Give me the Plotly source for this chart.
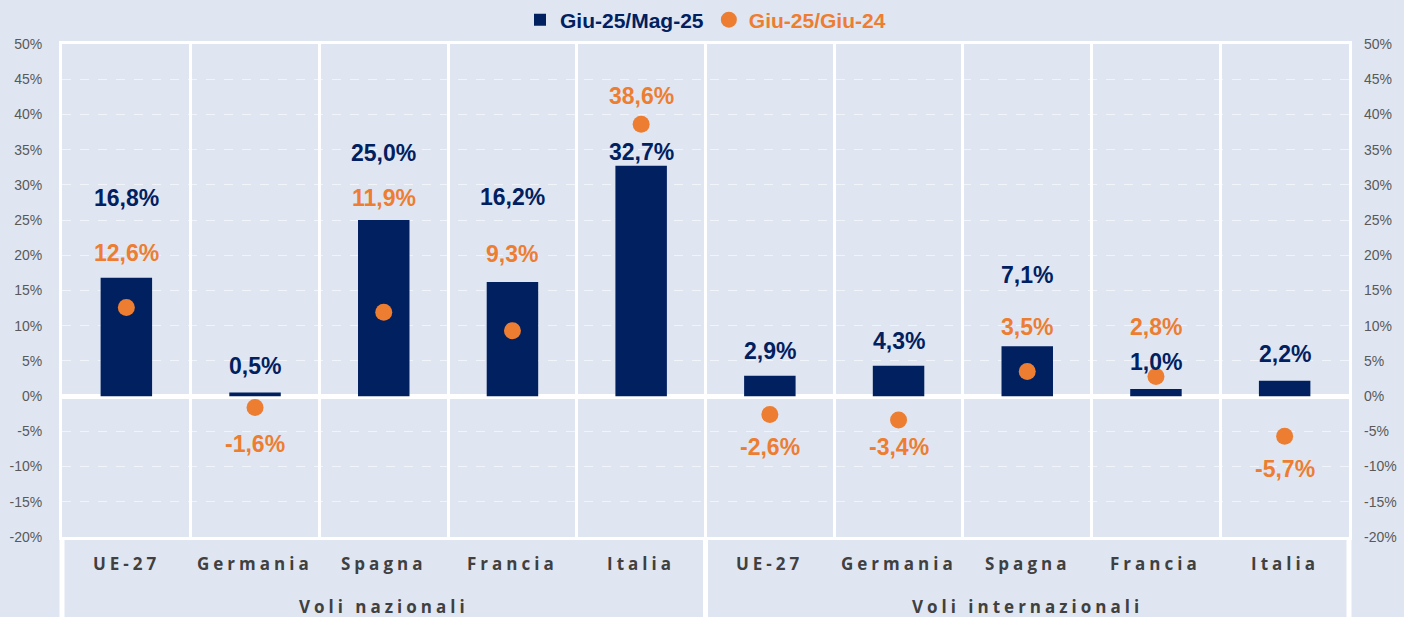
import plotly.graph_objects as go

# ---------------- data ----------------
categories = ["UE-27", "Germania", "Spagna", "Francia", "Italia",
              "UE-27", "Germania", "Spagna", "Francia", "Italia"]
groups = ["Voli nazionali", "Voli internazionali"]
group_size = [5, 5]
mom_values = [16.8, 0.5, 25.0, 16.2, 32.7, 2.9, 4.3, 7.1, 1.0, 2.2]      # Giu-25/Mag-25
yoy_values = [12.6, -1.6, 11.9, 9.3, 38.6, -2.6, -3.4, 3.5, 2.8, -5.7]  # Giu-25/Giu-24
series_names = ["Giu-25/Mag-25", "Giu-25/Giu-24"]
tick_vals = list(range(-20, 55, 5))
tick_text = [f"{v}%" for v in tick_vals]

# label placement (pixel offsets of the text from the value it labels)
mom_label_shift = [80, 27, 67, 85, 14, 25, 25, 71, 27, 27]
yoy_label_shift = [54, -37, 114, 77, 28, -33, -27, 44, 49, -33]

# ---------------- style ----------------
NAVY = "#002060"
ORANGE = "#ED7D31"
BG = "#DFE6F2"
GREY = "#404040"
TICK_GREY = "#595959"
LABEL_FONT = "Arial, Liberation Sans, sans-serif"
CAT_FONT = "Open Sans, sans-serif"

def fmt(v):
    return f"{v:.1f}%".replace(".", ",")

x = list(range(len(categories)))

fig = go.Figure()
fig.add_trace(go.Bar(
    x=x, y=mom_values, width=0.4,
    marker=dict(color=NAVY, line=dict(width=0)),
    name=f'<b><span style="color:{NAVY}">{series_names[0]}</span></b>',
    yaxis="y",
))
fig.add_trace(go.Scatter(
    x=x, y=yoy_values, mode="markers",
    marker=dict(color=ORANGE, size=17, symbol="circle"),
    name=f'<b><span style="color:{ORANGE}">{series_names[1]}</span></b>',
    yaxis="y2",
))

annotations = []
for i, v in enumerate(mom_values):
    annotations.append(dict(
        x=i, y=v, xref="x", yref="y", yshift=mom_label_shift[i],
        text=f"<b>{fmt(v)}</b>", showarrow=False, yanchor="middle",
        font=dict(family=LABEL_FONT, size=23, color=NAVY)))
for i, v in enumerate(yoy_values):
    annotations.append(dict(
        x=i, y=v, xref="x", yref="y", yshift=yoy_label_shift[i],
        text=f"<b>{fmt(v)}</b>", showarrow=False, yanchor="middle",
        font=dict(family=LABEL_FONT, size=23, color=ORANGE)))

# category labels
for i, c in enumerate(categories):
    annotations.append(dict(
        x=i, y=-0.053, xref="x", yref="paper", yanchor="middle",
        text=f'<b><span style="letter-spacing:4px">{c}</span></b>',
        showarrow=False, font=dict(family=CAT_FONT, size=17, color=GREY)))

# group labels
start = 0
bounds = [0]
for g, n in zip(groups, group_size):
    center = start + (n - 1) / 2
    annotations.append(dict(
        x=center, y=-0.14, xref="x", yref="paper", yanchor="middle",
        text=f'<b><span style="letter-spacing:4px">{g}</span></b>',
        showarrow=False, font=dict(family=CAT_FONT, size=17, color=GREY)))
    start += n
    bounds.append(start)

N = len(categories)
shapes = []
for b in bounds:
    shapes.append(dict(
        type="line", xref="x domain", yref="paper",
        x0=b / N, x1=b / N, y0=0, y1=-0.2,
        line=dict(color="white", width=5), layer="above"))

axis_common = dict(
    range=[-20, 50], tickvals=tick_vals, ticktext=tick_text,
    tickfont=dict(family=LABEL_FONT, size=14, color=TICK_GREY),
    ticks="", ticklabelstandoff=14, fixedrange=True,
)

fig.update_layout(
    width=1404, height=617,
    margin=dict(l=62, r=55, t=44, b=80, autoexpand=False),
    paper_bgcolor=BG, plot_bgcolor=BG,
    showlegend=True,
    legend=dict(orientation="h", x=0.5, xanchor="center",
                yref="container", y=1 - 20 / 617, yanchor="middle",
                bgcolor="rgba(0,0,0,0)",
                font=dict(family=LABEL_FONT, size=21, color=NAVY),
                itemclick=False, itemdoubleclick=False),
    xaxis=dict(
        range=[-0.5, N - 0.5], showticklabels=False, ticks="",
        tickvals=x, showgrid=False, zeroline=False, fixedrange=True,
        showline=True, mirror=True, linecolor="white", linewidth=3,
        minor=dict(tickmode="array", tickvals=[i - 0.5 for i in range(N + 1)],
                   showgrid=True, gridcolor="white", gridwidth=3, ticks=""),
    ),
    yaxis=dict(
        **axis_common, side="left",
        showgrid=True, gridcolor="rgba(255,255,255,0.55)", griddash="dash", gridwidth=1,
        zeroline=True, zerolinecolor="white", zerolinewidth=5,
        showline=True, mirror=True, linecolor="white", linewidth=3,
    ),
    yaxis2=dict(
        **axis_common, side="right", overlaying="y",
        showgrid=False, zeroline=False, showline=False,
    ),
    annotations=annotations,
    shapes=shapes,
)

fig.write_html(
    "out.html",
    config={"displayModeBar": False},
    post_script="document.body.style.margin='0';document.body.style.padding='0';"
                "document.body.style.overflow='hidden';"
                f"document.body.style.background='{BG}';",
)
